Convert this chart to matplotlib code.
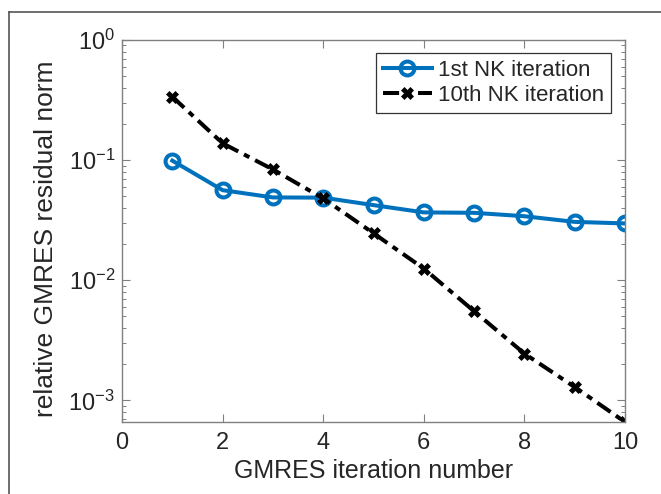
import matplotlib
matplotlib.use("Agg")
import matplotlib.pyplot as plt
from matplotlib.lines import Line2D
from matplotlib.ticker import LogLocator, FixedLocator, NullFormatter, LogFormatterSciNotation

plt.rcParams['font.family'] = ['Liberation Sans', 'DejaVu Sans']
plt.rcParams['mathtext.fontset'] = 'custom'
plt.rcParams['mathtext.rm'] = 'Liberation Sans'
plt.rcParams['mathtext.it'] = 'Liberation Sans'
plt.rcParams['mathtext.default'] = 'regular'

iterations = [1, 2, 3, 4, 5, 6, 7, 8, 9, 10]
nk1_resid = [0.099, 0.0562, 0.0489, 0.0487, 0.0422, 0.0367, 0.0364, 0.0341, 0.0306, 0.0297]
nk10_resid = [0.337, 0.138, 0.0836, 0.048, 0.0246, 0.0125, 0.00552, 0.00245, 0.00129, 0.00066]
labels = ["1st NK iteration", "10th NK iteration"]
xlabel = "GMRES iteration number"
ylabel = "relative GMRES residual norm"

W, H = 661, 494
fig = plt.figure(figsize=(W / 100, H / 100), dpi=100)
ax = fig.add_axes([122 / W, 1 - 422 / H, (625 - 122) / W, (422 - 40) / H])

ax.plot(iterations, nk1_resid, color='#0072BD', lw=2.9, marker='o', ms=10,
        mfc='none', mew=2.9, label=labels[0])
ax.plot(iterations, nk10_resid, color='black', lw=2.9, ls=(0, (4, 1.6, 1.5, 1.6)),
        marker='X', ms=9, mfc='black', mec='black', mew=0.5, label=labels[1])

ax.set_yscale('log')
ax.set_xlim(0, 10)
ax.set_ylim(nk10_resid[-1], 1)
ax.xaxis.set_major_locator(FixedLocator([0, 2, 4, 6, 8, 10]))
ax.yaxis.set_major_locator(FixedLocator([1e-3, 1e-2, 1e-1, 1e0]))
ax.yaxis.set_major_formatter(LogFormatterSciNotation())
ax.yaxis.set_minor_locator(LogLocator(base=10, subs=range(2, 10)))
ax.yaxis.set_minor_formatter(NullFormatter())

spine_col = '#808080'
for s in ax.spines.values():
    s.set_color(spine_col)
    s.set_linewidth(1.0)
ax.tick_params(which='both', direction='in', top=True, right=True,
               colors=spine_col, labelcolor='#262626', labelsize=17)
ax.tick_params(which='major', length=6, width=0.8)
ax.tick_params(which='minor', length=3, width=0.7)
ax.tick_params(axis='x', pad=7)
ax.tick_params(axis='y', pad=5)

ax.set_xlabel(xlabel, fontsize=18, color='#262626', labelpad=4)
ax.set_ylabel(ylabel, fontsize=19, color='#262626', labelpad=2)
ax.yaxis.set_label_coords(-0.128, 0.48)

leg = ax.legend(loc='upper right', bbox_to_anchor=(611 / W, 1 - 53 / H),
                bbox_transform=fig.transFigure, fontsize=16, fancybox=False,
                framealpha=1, edgecolor='#333333', handlelength=2.2,
                handletextpad=0.3, borderpad=0.3, labelspacing=0.2,
                borderaxespad=0)
leg.get_frame().set_linewidth(0.9)
for t in leg.get_texts():
    t.set_color('#262626')

# outer frame (partially visible)
fig.add_artist(Line2D([9 / W, 9 / W], [1 - 12 / H, 0], transform=fig.transFigure,
                      color='#555555', lw=1.2))
fig.add_artist(Line2D([9 / W, 1], [1 - 12 / H, 1 - 12 / H], transform=fig.transFigure,
                      color='#555555', lw=1.2))

fig.savefig('out.png', dpi=100)
